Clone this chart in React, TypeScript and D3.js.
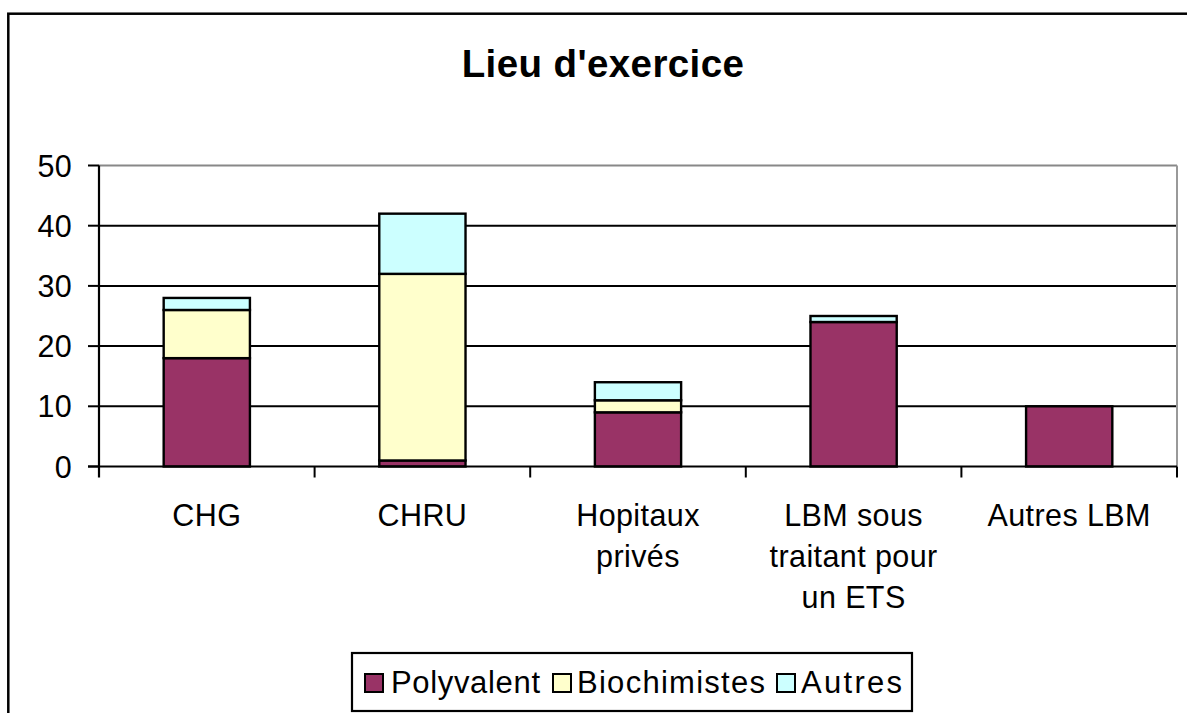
import React from "react";
import * as d3 from "d3";

const categories = ["CHG", "CHRU", "Hopitaux privés", "LBM sous traitant pour un ETS", "Autres LBM"];
const categoryLines = [["CHG"], ["CHRU"], ["Hopitaux", "privés"], ["LBM sous", "traitant pour", "un ETS"], ["Autres LBM"]];
const seriesNames = ["Polyvalent", "Biochimistes", "Autres"];
const polyvalent = [18, 1, 9, 24, 10];
const biochimistes = [8, 31, 2, 0, 0];
const autres = [2, 10, 3, 1, 0];
const yTicks = [0, 10, 20, 30, 40, 50];
const colors = ["#993366", "#FFFFCC", "#CCFFFF"];

const W = 1187;
const H = 713;
const plot = { left: 99, right: 1177, top: 165.5, bottom: 466.5 };
const FONT = "'Liberation Sans', Arial, sans-serif";

export default function App() {
  const x = d3
    .scaleBand<string>()
    .domain(categories)
    .range([plot.left, plot.right])
    .paddingInner(0.6)
    .paddingOuter(0.3);
  const y = d3.scaleLinear().domain([0, 50]).range([plot.bottom, plot.top]);

  const rows = categories.map((c, i) => ({
    cat: c,
    Polyvalent: polyvalent[i],
    Biochimistes: biochimistes[i],
    Autres: autres[i],
  }));
  const stack = d3.stack<any>().keys(seriesNames)(rows);
  const step = x.step();

  const legendItems = [
    { name: seriesNames[0], mx: 365, tx: 391, tl: 149 },
    { name: seriesNames[1], mx: 553, tx: 577, tl: 188 },
    { name: seriesNames[2], mx: 777, tx: 801, tl: 101 },
  ];

  return (
    <svg
      width={W}
      height={H}
      style={{ position: "absolute", left: 0, top: 0, background: "#fff" }}
      fontFamily={FONT}
    >
      <rect x={0} y={0} width={W} height={H} fill="#fff" />
      {/* outer frame (extends beyond viewport at right and bottom) */}
      <rect x={8.3} y={13.7} width={W + 20} height={H + 20} fill="none" stroke="#000" strokeWidth={2.5} />

      {/* title */}
      <text x={603} y={77} textAnchor="middle" fontSize={38.5} fontWeight="bold" letterSpacing={0.4} fill="#000">
        Lieu d'exercice
      </text>

      {/* gridlines */}
      {yTicks.filter((t) => t > 0 && t < 50).map((t) => (
        <line key={t} x1={plot.left} x2={plot.right} y1={y(t)} y2={y(t)} stroke="#000" strokeWidth={2} />
      ))}
      {/* plot border top & right (gray) */}
      <line x1={plot.left} x2={plot.right} y1={y(50)} y2={y(50)} stroke="#888" strokeWidth={2} />
      <line x1={plot.right} x2={plot.right} y1={y(50)} y2={plot.bottom} stroke="#999" strokeWidth={2} />

      {/* bars */}
      {stack.map((s, si) =>
        s.map((d, i) => {
          const v = d[1] - d[0];
          if (v <= 0) return null;
          return (
            <rect
              key={si + "-" + i}
              x={x(categories[i])!}
              y={y(d[1])}
              width={x.bandwidth()}
              height={y(d[0]) - y(d[1])}
              fill={colors[si]}
              stroke="#000"
              strokeWidth={2.4}
            />
          );
        })
      )}

      {/* axes */}
      <line x1={plot.left} x2={plot.left} y1={plot.top} y2={plot.bottom + 11} stroke="#000" strokeWidth={2.2} />
      <line x1={plot.left - 11} x2={plot.right} y1={plot.bottom} y2={plot.bottom} stroke="#000" strokeWidth={2.2} />
      {yTicks.map((t) => (
        <g key={t}>
          <line x1={plot.left - 11} x2={plot.left} y1={y(t)} y2={y(t)} stroke="#000" strokeWidth={2} />
          <text x={72} y={y(t) + 11} textAnchor="end" fontSize={30.5} letterSpacing={0.3} fill="#000">
            {t}
          </text>
        </g>
      ))}
      {categories.map((c, i) => (
        <line
          key={c}
          x1={plot.left + step * (i + 1)}
          x2={plot.left + step * (i + 1)}
          y1={plot.bottom}
          y2={plot.bottom + 11}
          stroke="#000"
          strokeWidth={2}
        />
      ))}
      {categories.map((c, i) => (
        <text key={c} textAnchor="middle" fontSize={30.5} letterSpacing={0.4} fill="#000">
          {categoryLines[i].map((ln, li) => (
            <tspan key={li} x={x(c)! + x.bandwidth() / 2} y={526 + li * 41}>
              {ln}
            </tspan>
          ))}
        </text>
      ))}

      {/* legend */}
      <rect x={352} y={653} width={560} height={58} fill="#fff" stroke="#000" strokeWidth={2.2} />
      {legendItems.map((it, i) => (
        <g key={it.name}>
          <rect x={it.mx} y={674} width={18} height={18} fill={colors[i]} stroke="#000" strokeWidth={2} />
          <text x={it.tx} y={693} fontSize={31} textLength={it.tl} lengthAdjust="spacing" fill="#000">
            {it.name}
          </text>
        </g>
      ))}
    </svg>
  );
}
